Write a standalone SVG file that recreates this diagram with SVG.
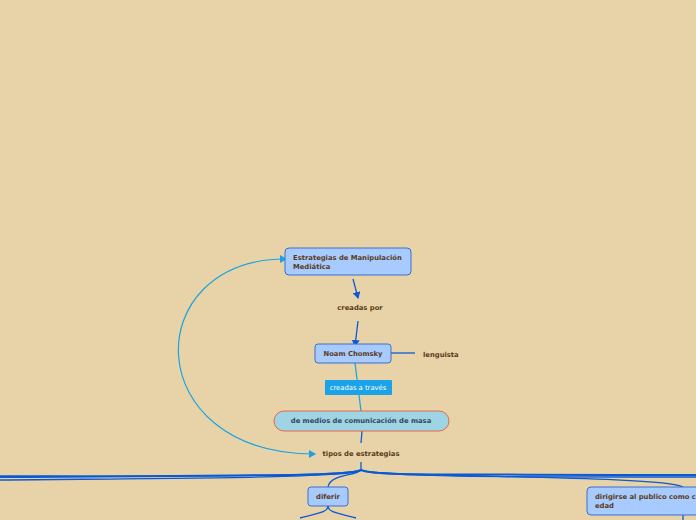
<svg xmlns="http://www.w3.org/2000/svg" width="696" height="520" viewBox="0 0 696 520">
<defs>
<style>
.bg{fill:#E8D3A8}
.node{fill:#A8CBFF;stroke:#3A6FD0;stroke-width:1}
.t{font-family:"DejaVu Sans",Verdana,sans-serif;font-weight:bold;font-size:6.8px;fill:#5A3A18}
.tc{text-anchor:middle}
.dk{stroke:#0A5AD6;fill:none;stroke-width:1.3}
.lt{stroke:#1AA3E2;fill:none;stroke-width:1.2}
.thick{stroke:#0A5AD6;fill:none;stroke-width:2}
</style>
<marker id="ad" markerWidth="8" markerHeight="8" refX="6" refY="4" orient="auto" markerUnits="userSpaceOnUse"><path d="M0,0 L7,4 L0,8 Z" fill="#0A5AD6"/></marker>
<marker id="al" markerWidth="8" markerHeight="8" refX="6" refY="4" orient="auto-start-reverse" markerUnits="userSpaceOnUse"><path d="M0,0 L7,4 L0,8 Z" fill="#1AA3E2"/></marker>
</defs>
<rect class="bg" x="0" y="0" width="696" height="520"/>
<g id="connectors">
<path class="dk" d="M353,279 L358,298" marker-end="url(#ad)"/>
<path class="dk" d="M358,321 L355,346" marker-end="url(#ad)"/>
<path class="dk" d="M391,353 L415,353"/>
<path class="lt" d="M355,363 L361,411"/>
<path class="dk" d="M362,431 L361,443"/>
<path class="lt" d="M315,454 C138,454 138,259 286,259" marker-start="url(#al)" marker-end="url(#al)"/>
<path class="dk" d="M361,462 L361,470"/>
<path class="thick" d="M361,470 C350,476 300,475 0,477"/>
<path class="dk" d="M361,470 C345,478 200,478 0,480"/>
<path class="dk" d="M361,470 C340,477 150,476 0,476"/>
<path class="dk" d="M361,470 C356,476 330,474 328,487"/>
<path class="thick" d="M361,470 C375,476 420,474 696,475"/>
<path class="dk" d="M361,470 C380,477 500,477 696,477"/>
<path class="dk" d="M361,470 C380,478 660,475 683,487"/>
<path class="dk" d="M328,506 C328,512 320,513 300,518"/>
<path class="dk" d="M328,506 C328,512 336,513 356,518"/>
<path class="dk" d="M683,515 L683,520"/>
</g>
<g id="n1">
<rect class="node" x="285" y="248" width="126" height="27" rx="4"/>
<text class="t" x="293" y="260">Estrategias de Manipulación</text>
<text class="t" x="293" y="269">Mediática</text>
</g>
<g id="n2">
<text class="t tc" x="360" y="310">creadas por</text>
</g>
<g id="n3">
<rect class="node" x="315" y="344" width="76" height="19" rx="3"/>
<text class="t tc" x="353" y="356">Noam Chomsky</text>
</g>
<g id="n4">
<text class="t" x="423" y="357">lenguista</text>
</g>
<g id="n5">
<rect x="325" y="380" width="67" height="15" rx="1" fill="#1AA3E8"/>
<text x="358" y="390" text-anchor="middle" font-family="DejaVu Sans,Verdana,sans-serif" font-size="6.8" fill="#FFFFFF">creadas a través</text>
</g>
<g id="n6">
<rect x="274" y="411" width="175" height="20" rx="10" fill="#9ED4E4" stroke="#E8684A" stroke-width="1"/>
<text class="t tc" x="361" y="423" style="fill:#33475A">de medios de comunicación de masa</text>
</g>
<g id="n7">
<text class="t tc" x="361" y="456">tipos de estrategias</text>
</g>
<g id="n8">
<rect class="node" x="308" y="487" width="40" height="19" rx="3"/>
<text class="t tc" x="328" y="499">diferir</text>
</g>
<g id="n9">
<rect class="node" x="587" y="487" width="120" height="28" rx="4"/>
<text class="t" x="595" y="499">dirigirse al publico como c</text>
<text class="t" x="595" y="508">edad</text>
</g>
</svg>
